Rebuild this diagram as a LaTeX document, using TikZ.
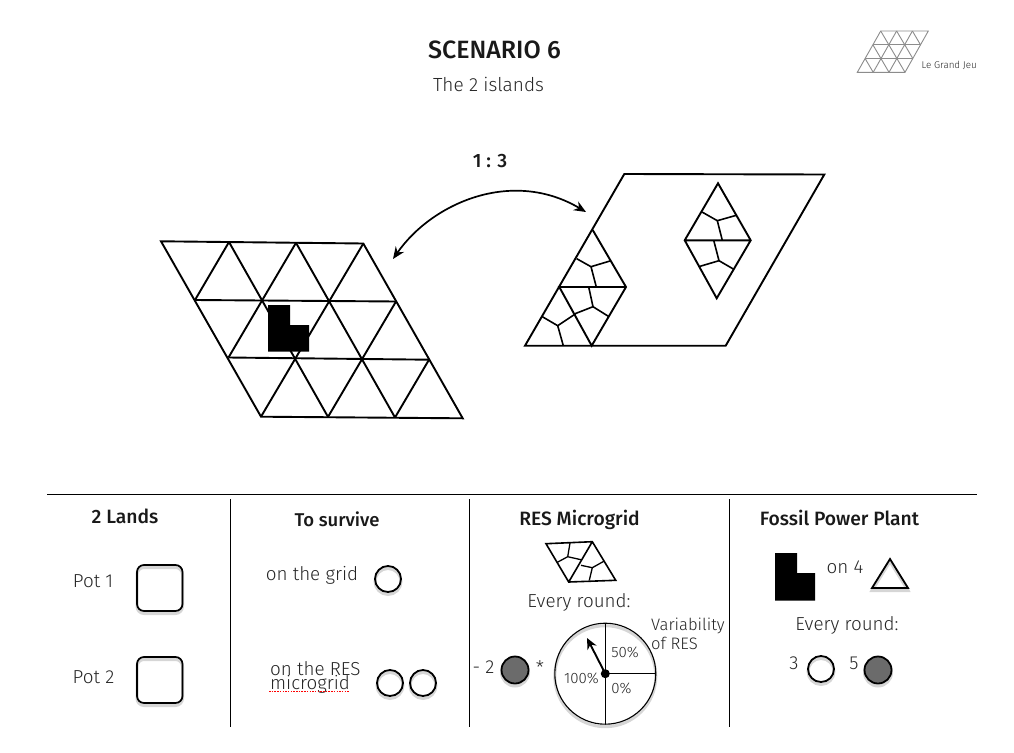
\documentclass[tikz,border=0pt]{standalone}
\usepackage{fontspec}
\setmainfont{Fira Sans Light}[BoldFont={Fira Sans Medium}]
\usetikzlibrary{arrows.meta,decorations.pathmorphing}
\tikzset{
  grid/.style={draw=black,line width=1.9pt,line join=miter},
  cell/.style={draw=black,line width=1.6pt},
  rule/.style={draw=black,line width=1pt},
  shad/.style={preaction={draw=black,opacity=.16,line width=3pt,transform canvas={yshift=-2.5pt}}},
  token/.style={draw=black,line width=1.8pt,shad},
  spent/.style={token,fill=black!58},
  pot/.style={draw=black,line width=1.7pt,rounded corners=7pt,shad},
  lbl/.style={text=black!85,inner sep=0pt,font=\fontsize{18.8}{18}\selectfont},
  lblsm/.style={text=black!85,inner sep=0pt,font=\fontsize{15}{15}\selectfont},
  head/.style={text=black!90,inner sep=0pt,font=\bfseries\fontsize{19.3}{19}\selectfont},
  tip/.style={-{Stealth[length=11pt,width=10pt]}},
}
\begin{document}
\begin{tikzpicture}[x=1pt,y=-1pt]
\useasboundingbox (0,0) rectangle (1014,752);
\fill[white] (0,0) rectangle (1014,752);
% titles
\node[head,font=\bfseries\fontsize{25}{25}\selectfont] (title) at (494.5,50) {SCENARIO 6};
\node[lbl,font=\fontsize{19}{20}\selectfont] (sub) at (488.5,84) {The 2 islands};
\node[head] (ratio) at (490,161) {1 : 3};
% logo
\begin{scope}[draw=black!45,line width=.9pt]
\draw (880.7,31) -- (928.3,31) -- (905,72.3) -- (857.3,72.3) -- cycle;
\draw (872.9,44.8) -- (920.5,44.8) (865.1,58.5) -- (912.8,58.5);
\draw (896.6,31) -- (873.2,72.3) (912.4,31) -- (889,72.3);
\draw (880.7,31) -- (905,72.3) (896.6,31) -- (912.8,58.5) (912.4,31) -- (920.5,44.8);
\draw (872.9,44.8) -- (889,72.3) (865.1,58.5) -- (873.2,72.3);
\end{scope}
\node[text=black!85,inner sep=0pt,anchor=west,font=\fontsize{9.8}{10}\selectfont] (logo) at (921.5,65) {Le Grand Jeu};
% left grid
\draw[grid] (161,241.3) -- (363.3,243.5) -- (462.7,418.3) -- (261,416.7) -- cycle;
\draw[grid] (195,300) -- (396,301.5) (228.5,357.5) -- (429,359.7);
\draw[grid] (229,242) -- (328,416.9) (296,242.8) -- (395,417.5);
\draw[grid] (229,242) -- (195,300) (296,242.8) -- (228.5,357.5);
\draw[grid] (363.3,243.5) -- (261,416.7) (396,301.5) -- (328,416.9) (429,359.7) -- (395,417.5);
\fill[black] (268,305) -- (290,305) -- (290,325) -- (309,325) -- (309,351.7) -- (268,351.7) -- cycle;
% right parallelogram
\draw[grid] (624.3,174) -- (824.3,174.5) -- (725.7,345.7) -- (525,345.7) -- cycle;
\draw[grid] (592.7,230) -- (626,287) -- (591.7,345.7) -- (559.3,287) -- (626,287);
\draw[cell] (576.7,258.7) -- (591,266.7) -- (610,261) (591,266.7) -- (596.3,287);
\draw[cell] (588.7,287) -- (593,306.7) -- (574.3,314) (593,306.7) -- (609,316.7);
\draw[cell] (542.3,316.7) -- (557.7,325.7) -- (575.7,313.7) (557.7,325.7) -- (563.3,345.7);
\draw[grid] (718,183.3) -- (750.7,240.3) -- (716.7,298.3) -- (684.7,240.3) -- cycle (684.7,240.3) -- (750.7,240.3);
\draw[cell] (702,212) -- (717.3,220.7) -- (736.3,215.3) (717.3,220.7) -- (722.3,240.3);
\draw[cell] (713.7,240.3) -- (719,260.7) -- (700,266.3) (719,260.7) -- (733.3,269);
% double arrow
\coordinate (arrowA) at (393,259);
\coordinate (arrowB) at (586,212);
\draw[line width=1.7pt,{Stealth[length=12pt,width=10pt]}-{Stealth[length=12pt,width=10pt]}] (arrowA) .. controls (432,203) and (512,168) .. (arrowB);
% table rules
\draw[rule] (47,494.5) -- (977,494.5);
\draw[rule] (230,499) -- (230,727) (469.5,499) -- (469.5,727) (729.5,499) -- (729.5,727);
% col 1
\node[head] (lands) at (125,516) {2 Lands};
\node[lbl] (pot1) at (93,581) {Pot 1};
\node[lbl] (pot2) at (93.5,677) {Pot 2};
\draw[pot] (137,565) rectangle (182.5,611);
\draw[pot] (137,657) rectangle (182.5,703);
% col 2
\node[head,font=\bfseries\fontsize{18.5}{19}\selectfont] (survive) at (337,519) {To survive};
\node[lbl] (ongrid) at (312,575) {on the grid};
\node[lbl,anchor=west] (onres) at (270,669) {on the RES};
\node[lbl,anchor=west] (micro) at (270,684) {microgrid};
\draw[token] (388,579) circle (13);
\draw[token] (390,683) circle (13);
\draw[token] (423,683) circle (13);
\draw[red,line width=1.2pt,dash pattern=on 1.5pt off 1.2pt] (269,691.5) -- (349,691.5);
% col 3
\node[head] (resm) at (579.5,520) {RES Microgrid};
\draw[grid,line width=1.6pt] (546,543.7) -- (592.3,541.7) -- (615.7,580.3) -- (568.7,582) -- cycle (592.3,541.7) -- (568.7,582);
\draw[cell,line width=1.3pt] (570,543) -- (567.7,556.7) -- (557.3,562.3) (567.7,556.7) -- (581,559.7);
\draw[cell,line width=1.3pt] (581,565.3) -- (592.3,567.7) -- (604.3,561) (592.3,567.7) -- (589.3,580.3);
\node[lbl] (ev1) at (579,602) {Every round:};
\node[lbl,anchor=west,font=\fontsize{16.6}{18}\selectfont] (var1) at (651,626) {Variability};
\node[lbl,anchor=west,font=\fontsize{16.6}{18}\selectfont] (var2) at (651,643) {of RES};
\node[lbl] (minus) at (483.5,667) {- 2};
\draw[spent] (515,670) circle (13.5);
\node[lbl] (star) at (540,668) {*};
\coordinate (dial) at (605.3,673.7);
\coordinate (needle) at (587,638);
\draw[draw=black,line width=1.1pt,shad] (dial) circle (50.5);
\draw[line width=1.1pt] (605.3,623.2) -- (605.3,724.2) (dial) -- (655.8,673.7);
\draw[line width=1.9pt,tip] (dial) -- (needle);
\fill[black] (dial) circle (4.5);
\node[lblsm] (p50) at (625,652) {50\%};
\node[lblsm] (p100) at (581.5,678) {100\%};
\node[lblsm] (p0) at (621.5,688) {0\%};
% col 4
\node[head] (fossil) at (839.5,518) {Fossil Power Plant};
\fill[black] (775,553) -- (797,553) -- (797,573) -- (815,573) -- (815,600.7) -- (775,600.7) -- cycle;
\node[lbl] (on4) at (845,567) {on 4};
\draw[token,line join=miter] (890,559) -- (908,588) -- (872,588) -- cycle;
\node[lbl] (ev2) at (847,625.5) {Every round:};
\node[lbl] (three) at (794,663) {3};
\draw[token] (821,669) circle (13);
\node[lbl] (five) at (854,663) {5};
\draw[spent] (878,670) circle (13.5);
\end{tikzpicture}
\end{document}
